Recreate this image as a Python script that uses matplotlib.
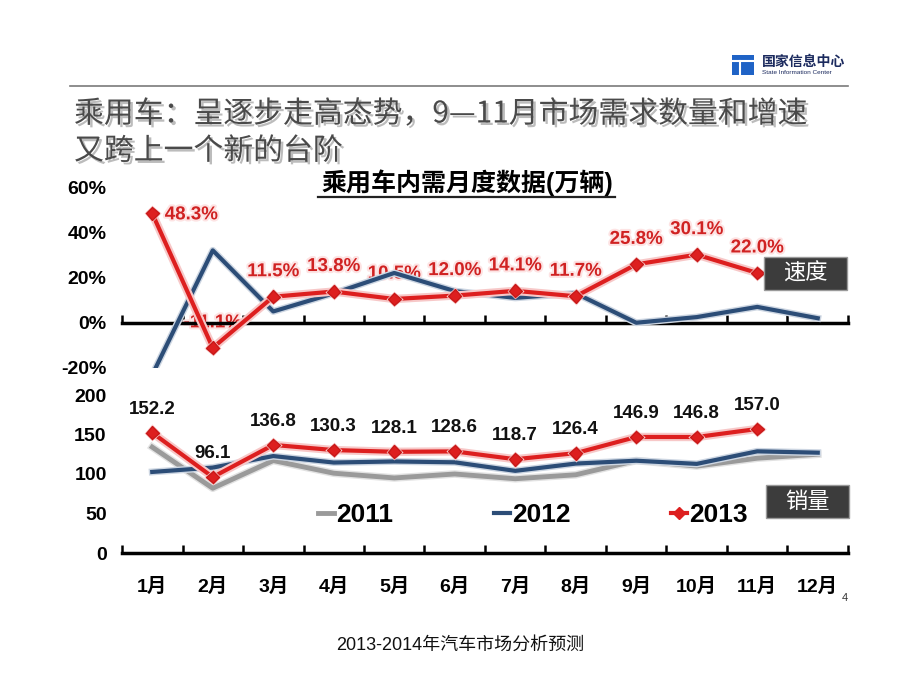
import matplotlib
matplotlib.use('Agg')
import matplotlib.pyplot as plt
import matplotlib.patheffects as pe
from matplotlib.lines import Line2D
from matplotlib.patches import Rectangle
import numpy as np

plt.rcParams['font.family'] = ['Liberation Sans', 'Noto Sans CJK SC']
plt.rcParams['axes.unicode_minus'] = False

# data
months = ['1月', '2月', '3月', '4月', '5月', '6月', '7月', '8月', '9月', '10月', '11月', '12月']
sales_2011 = [134, 82, 117, 101, 95, 100, 94, 99, 117, 110, 120, 125]
sales_2012 = [102.6, 108.1, 122.7, 114.5, 115.9, 114.8, 104.0, 113.2, 116.8, 112.8, 128.7, 127]
sales_2013 = [152.2, 96.1, 136.8, 130.3, 128.1, 128.6, 118.7, 126.4, 146.9, 146.8, 157.0]
growth_2012 = [-23, 32, 5, 13, 22, 14, 11, 13, 0, 2.5, 7, 2]
growth_2013 = [48.3, -11.1, 11.5, 13.8, 10.5, 12.0, 14.1, 11.7, 25.8, 30.1, 22.0]
growth_ticks = [-20, 0, 20, 40, 60]
sales_ticks = [0, 50, 100, 150, 200]

W, H = 920, 690
def fx(x): return x / W
def fy(y): return 1 - y / H

RED = '#dd1f1f'
BLUE = '#2c4d77'
GRAY = '#9a9a9a'

fig = plt.figure(figsize=(9.2, 6.9), dpi=100)
fig.patch.set_facecolor('white')

red_fx = [pe.Stroke(linewidth=6, foreground='#f7c8c8'), pe.Normal()]
mark_fx = [pe.Stroke(linewidth=2, foreground='#f7c8c8'), pe.Normal()]
blue_fx = [pe.Stroke(linewidth=5, foreground='#cdd6e2'), pe.Normal()]
gray_fx = [pe.Stroke(linewidth=5.5, foreground='#e2e2e2'), pe.Normal()]

x12 = np.arange(12)
x11 = np.arange(11)

def style_axis(ax, ylim, ticks, labels, zero_pos):
    ax.set_xlim(-0.5, 11.5)
    ax.set_ylim(*ylim)
    ax.set_facecolor('none')
    for s in ['left', 'right', 'top']:
        ax.spines[s].set_visible(False)
    ax.spines['bottom'].set_position(('data', zero_pos))
    ax.spines['bottom'].set_linewidth(2.5)
    ax.set_yticks(ticks)
    ax.set_yticklabels(labels, fontsize=14, fontweight='bold')
    ax.tick_params(axis='y', length=0, pad=11)
    ax.set_xticks(np.arange(-0.5, 12, 1), minor=True)
    ax.tick_params(axis='x', which='minor', direction='in', length=6, width=1.8)

def red_series(ax, x, y):
    ax.plot(x, y, color=RED, lw=3, zorder=4, path_effects=red_fx)
    ax.plot(x, y, ls='none', marker='D', ms=6.5, color=RED, mec='#c81818',
            zorder=5, path_effects=mark_fx)

# ---- top: growth ----
ax1 = fig.add_axes([fx(122), fy(368), fx(848) - fx(122), (368 - 187) / H])
style_axis(ax1, (-20, 60), growth_ticks, [f'{t}%' for t in growth_ticks], 0)
ax1.set_xticks([])
ax1.plot(x12, growth_2012, color=BLUE, lw=3, zorder=3, path_effects=blue_fx)
red_series(ax1, x11, growth_2013)
for i, v in enumerate(growth_2013):
    if i == 0:
        off, ha = (9, -1), 'left'
    else:
        off, ha = (0, 18), 'center'
    ax1.annotate(f'{v:.1f}%', (i, v), xytext=off, textcoords='offset points',
                 ha=ha, va='center', fontsize=13.5, fontweight='bold', color='#d02222', zorder=2,
                 path_effects=[pe.withStroke(linewidth=3, foreground='#fde3e3')])

# ---- bottom: sales ----
ax2 = fig.add_axes([fx(122), fy(553), fx(848) - fx(122), (553 - 395) / H])
style_axis(ax2, (0, 200), sales_ticks, [str(t) for t in sales_ticks], 0)
ax2.set_xticks(x12)
ax2.set_xticklabels(months, fontsize=14, fontweight='bold')
ax2.tick_params(axis='x', which='major', length=0, pad=18)
ax2.plot(x12, sales_2011, color=GRAY, lw=3.5, zorder=2, path_effects=gray_fx)
ax2.plot(x12, sales_2012, color=BLUE, lw=3, zorder=3, path_effects=blue_fx)
red_series(ax2, x11, sales_2013)
for i, v in enumerate(sales_2013):
    ax2.annotate(f'{v:.1f}', (i, v), xytext=(0, 17), textcoords='offset points',
                 ha='center', va='center', fontsize=13.5, fontweight='bold', color='#111111', zorder=6)

handles = [Line2D([], [], color=GRAY, lw=3.5),
           Line2D([], [], color=BLUE, lw=3),
           Line2D([], [], color=RED, lw=3, marker='D', ms=6.5)]
leg = fig.legend(handles, ['2011', '2012', '2013'], loc='center', ncol=3,
                 bbox_to_anchor=(fx(533), fy(515)), frameon=False,
                 prop={'size': 19, 'weight': 'bold'}, handlelength=0.6,
                 handletextpad=0.1, columnspacing=3.8, borderpad=0)

# labelled boxes
for (x0, y0, x1, y1), txt in [((764, 257, 847, 290), '速度'), ((766, 485, 849, 518), '销量')]:
    fig.patches.append(Rectangle((fx(x0), fy(y1)), fx(x1) - fx(x0), (y1 - y0) / H,
                                 transform=fig.transFigure, facecolor='#3c3c3c',
                                 edgecolor='#9a9a9a', lw=1))
    fig.text(fx((x0 + x1) / 2), fy((y0 + y1) / 2), txt, ha='center', va='center',
             color='white', fontsize=16, family='Noto Sans CJK SC')

# chart title with underline
fig.text(fx(467), fy(183), '乘用车内需月度数据(万辆)', ha='center', va='center',
         fontsize=18, fontweight='bold')
fig.add_artist(Line2D([fx(318), fx(615)], [fy(197), fy(197)], color='#222222', lw=1.6))

# slide title
shadow = [pe.SimplePatchShadow(offset=(1.8, -1.8), shadow_rgbFace='#b5b5b5', alpha=0.9), pe.Normal()]
fig.text(fx(74), fy(114), '乘用车：呈逐步走高态势，9—11月市场需求数量和增速',
         ha='left', va='center', fontsize=21.5, color='#4a4a4a',
         family='Noto Sans CJK SC', path_effects=shadow)
fig.text(fx(74), fy(151), '又跨上一个新的台阶', ha='left', va='center', fontsize=21.5,
         color='#4a4a4a', family='Noto Sans CJK SC', path_effects=shadow)

# header line and logo
fig.add_artist(Line2D([fx(70), fx(848)], [fy(86), fy(86)], color='#7a7a7a', lw=1.2))
fig.patches.append(Rectangle((fx(732), fy(75)), fx(754) - fx(732), 20 / H,
                             transform=fig.transFigure, facecolor='#1f63c6', edgecolor='none'))
fig.add_artist(Line2D([fx(740), fx(740)], [fy(61), fy(75)], color='white', lw=1.5))
fig.add_artist(Line2D([fx(732), fx(754)], [fy(61), fy(61)], color='white', lw=1.5))
fig.text(fx(762), fy(62), '国家信息中心', ha='left', va='center', fontsize=10,
         color='#1b2a5e', family='Noto Sans CJK SC', fontweight='bold')
fig.text(fx(762), fy(73), 'State Information Center', ha='left', va='center', fontsize=4.6,
         color='#1b2a5e')

# footer and page number
fig.text(fx(460), fy(645), '2013-2014年汽车市场分析预测', ha='center', va='center',
         fontsize=13, color='#111111')
fig.text(fx(845), fy(598), '4', ha='center', va='center', fontsize=8, color='#333333')

fig.savefig('out.png', dpi=100, facecolor='white')
